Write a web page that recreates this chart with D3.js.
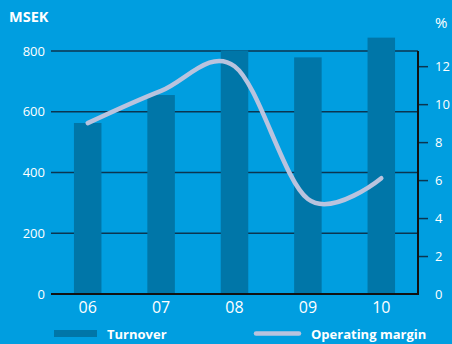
<!DOCTYPE html>
<html><head><meta charset="utf-8">
<script src="https://cdn.jsdelivr.net/npm/d3@7"></script>
<style>
html,body{margin:0;padding:0;background:#009ee0;}
svg{display:block;}
text{font-family:"Open Sans","Noto Sans",sans-serif;fill:#fff;}
</style></head><body>
<svg id="c" width="452" height="344"></svg>
<script>
const categories = ["06","07","08","09","10"];
const turnover = [563, 655, 802, 779, 844];
const operatingMargin = [9.0, 10.7, 12.0, 5.0, 6.1];
const leftTicks = [0, 200, 400, 600, 800];
const rightTicks = [0, 2, 4, 6, 8, 10, 12];

const svg = d3.select("#c");
const W = 452, H = 344;
const m = {left: 51, right: 418, top: 51, bottom: 294};

svg.append("rect").attr("width", W).attr("height", H).attr("fill", "#009ee0");

const x = d3.scaleBand().domain(categories).range([m.left, m.right]);
const yL = d3.scaleLinear().domain([0, 800]).range([m.bottom, m.top]);
const yR = d3.scaleLinear().domain([0, 12.8]).range([m.bottom, m.top]);

// gridlines
svg.append("g").selectAll("line").data(leftTicks.filter(d => d > 0)).join("line")
  .attr("x1", m.left).attr("x2", m.right)
  .attr("y1", d => yL(d)).attr("y2", d => yL(d))
  .attr("stroke", "#0b3550").attr("stroke-width", 1.3);

// bars
const bw = x.bandwidth() * 0.375;
svg.append("g").selectAll("rect").data(categories).join("rect")
  .attr("x", (d) => x(d) + x.bandwidth() / 2 - bw / 2)
  .attr("width", bw)
  .attr("y", (d, i) => yL(turnover[i]))
  .attr("height", (d, i) => yL(0) - yL(turnover[i]))
  .attr("fill", "#0076a8");

// left axis labels
const gl = svg.append("g").attr("transform", `translate(${m.left},0)`)
  .call(d3.axisLeft(yL).tickValues(leftTicks).tickSize(0).tickPadding(6));
gl.select(".domain").remove();
gl.selectAll("text").attr("fill", "#fff").style("font-size", "13px")
  .style("font-family", '"Open Sans","Noto Sans",sans-serif');

// right axis
const gr = svg.append("g").attr("transform", `translate(${m.right},0)`)
  .call(d3.axisRight(yR).tickValues(rightTicks).tickSize(10).tickPadding(7));
gr.select(".domain").remove();
gr.selectAll(".tick line").attr("stroke", "#0b3550").attr("stroke-width", 1.5);
gr.selectAll(".tick").filter(d => d === 0).select("line").remove();
gr.selectAll("text").attr("fill", "#fff").style("font-size", "13px")
  .style("font-family", '"Open Sans","Noto Sans",sans-serif');

// x axis labels
const gx = svg.append("g").attr("transform", `translate(0,${m.bottom})`)
  .call(d3.axisBottom(x).tickSize(0).tickPadding(8));
gx.select(".domain").remove();
gx.selectAll("text").attr("fill", "#fff").style("font-size", "16px")
  .style("font-family", '"Open Sans","Noto Sans",sans-serif');

// frame: baseline and right axis
svg.append("line").attr("x1", m.left).attr("x2", m.right + 1)
  .attr("y1", yL(0)).attr("y2", yL(0)).attr("stroke", "#111").attr("stroke-width", 2);
svg.append("line").attr("x1", m.right).attr("x2", m.right)
  .attr("y1", m.top).attr("y2", m.bottom).attr("stroke", "#111").attr("stroke-width", 2);

// line
const line = d3.line()
  .x((d, i) => x(categories[i]) + x.bandwidth() / 2)
  .y(d => yR(d))
  .curve(d3.curveCardinal.tension(0));
svg.append("path").datum(operatingMargin).attr("d", line)
  .attr("fill", "none").attr("stroke", "#b9c3de").attr("stroke-width", 4.5)
  .attr("stroke-linecap", "round");

// titles
svg.append("text").attr("x", 9).attr("y", 22).text("MSEK")
  .style("font-size", "14.5px").style("font-weight", "bold");
svg.append("text").attr("x", 435).attr("y", 28).text("%")
  .style("font-size", "15px");

// legend
svg.append("rect").attr("x", 54).attr("y", 330).attr("width", 43).attr("height", 7).attr("fill", "#0076a8");
svg.append("text").attr("x", 107).attr("y", 339).text("Turnover")
  .style("font-size", "13px").style("font-weight", "bold");
svg.append("line").attr("x1", 256).attr("x2", 299).attr("y1", 333.5).attr("y2", 333.5)
  .attr("stroke", "#b9c3de").attr("stroke-width", 4.5).attr("stroke-linecap", "round");
svg.append("text").attr("x", 311).attr("y", 339).text("Operating margin")
  .style("font-size", "13px").style("font-weight", "bold");
</script>
</body></html>
